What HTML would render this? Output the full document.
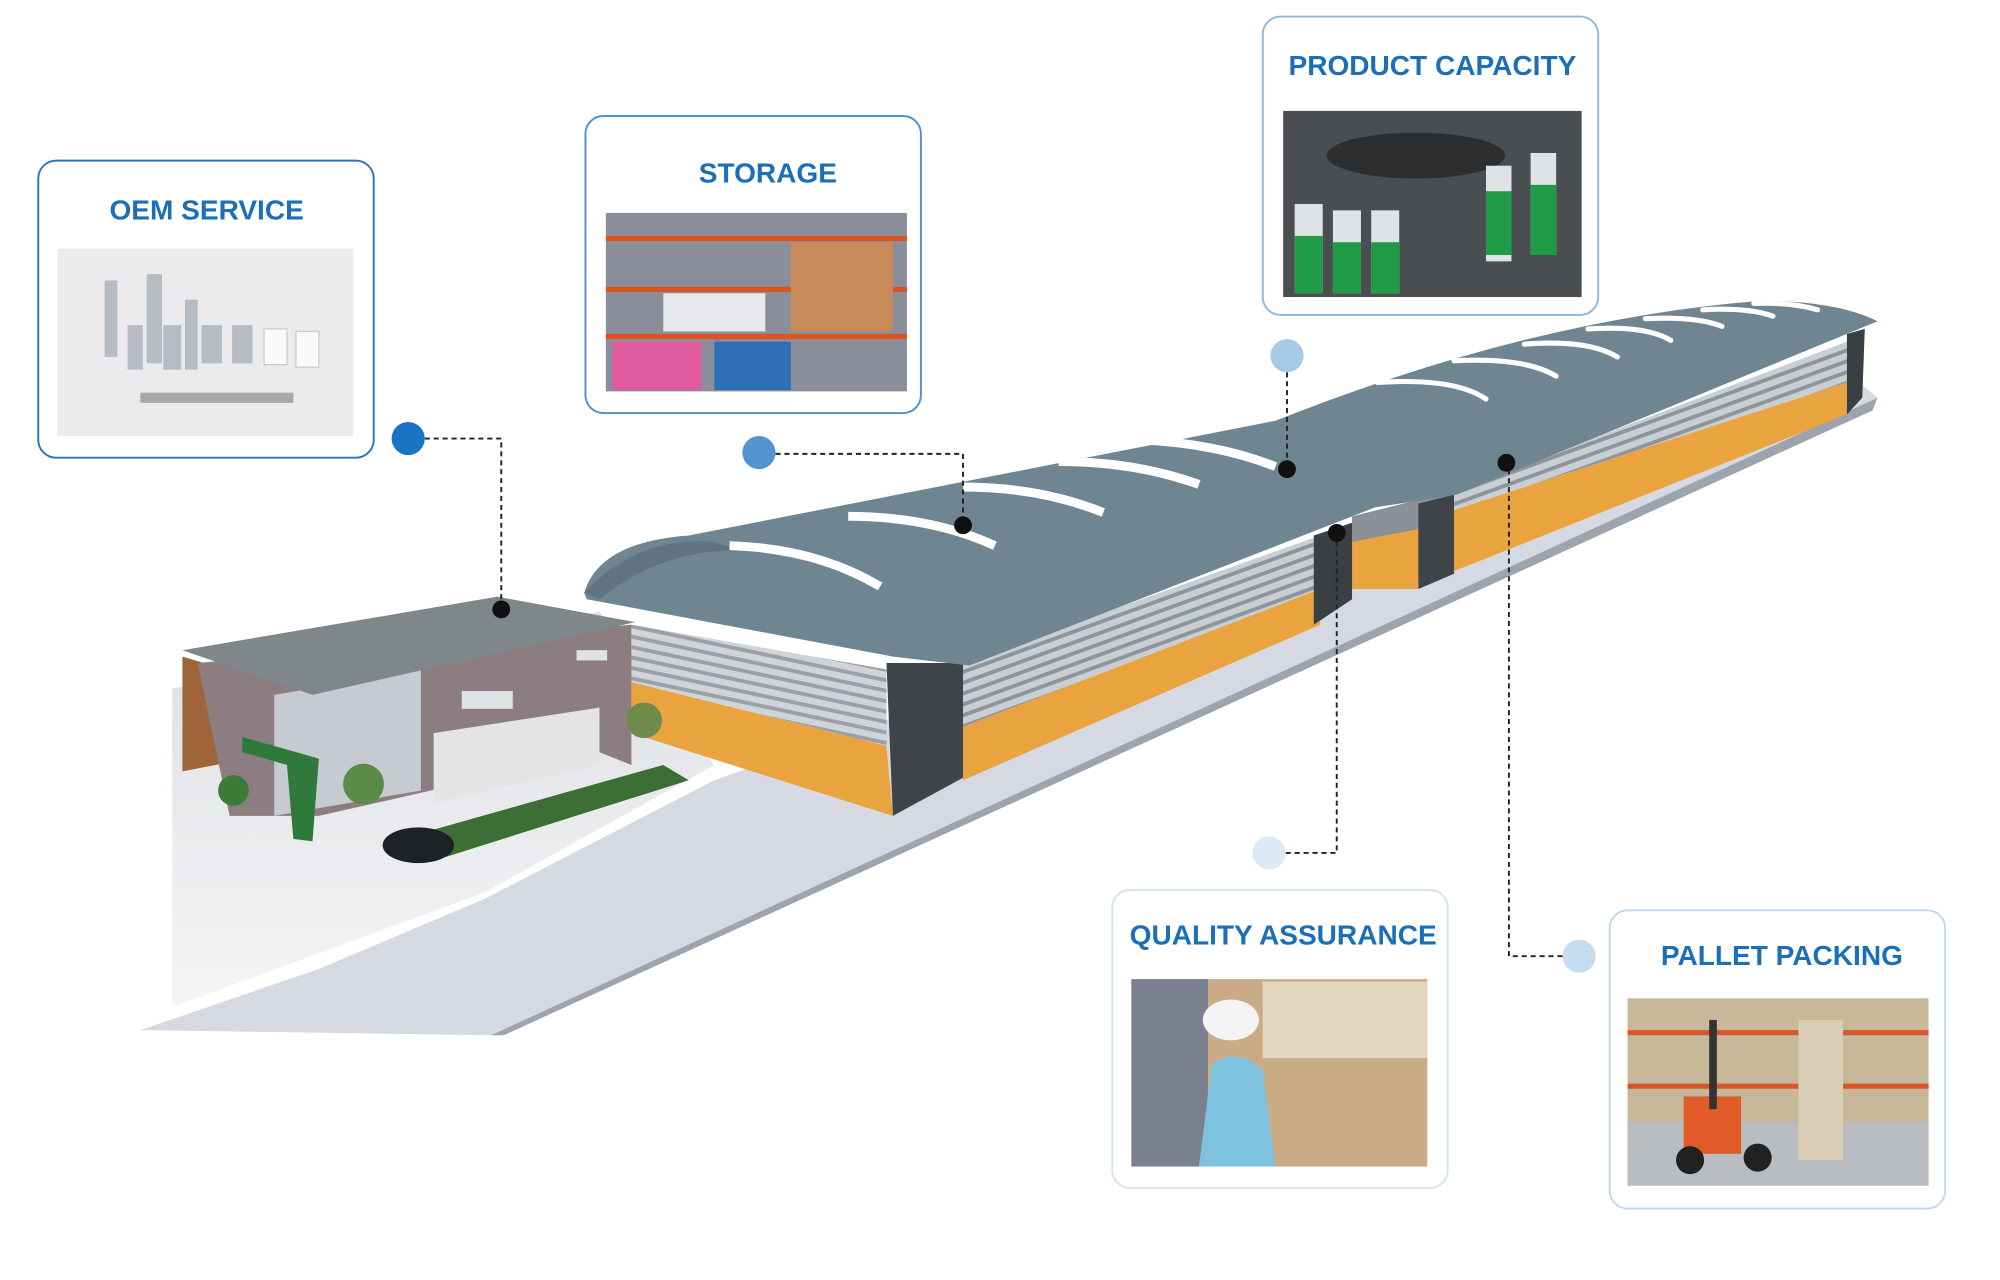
<!DOCTYPE html>
<html><head><meta charset="utf-8"><style>
html,body{margin:0;padding:0;background:#fff;}
svg{display:block;}
text{font-family:"Liberation Sans",sans-serif;font-weight:bold;fill:#1a6fb8;}
</style></head><body>
<svg width="2000" height="1280" viewBox="0 0 1568 1004" preserveAspectRatio="none" xmlns="http://www.w3.org/2000/svg">
<defs>
<linearGradient id="lot" x1="0" y1="0" x2="0" y2="1"><stop offset="0" stop-color="#dcdfe2"/><stop offset="1" stop-color="#f4f5f7"/></linearGradient>
<pattern id="stripe" width="8" height="8" patternUnits="userSpaceOnUse" patternTransform="rotate(-20)"><rect width="8" height="8" fill="#c9ced3"/><rect width="8" height="3" fill="#8d949b"/></pattern>
<pattern id="stripe2" width="8" height="8" patternUnits="userSpaceOnUse" patternTransform="rotate(12)"><rect width="8" height="8" fill="#d0d4d8"/><rect width="8" height="3" fill="#9aa0a6"/></pattern>
</defs>
<!-- ground -->
<polygon points="135,540 470,480 560,600 380,700 135,790" fill="url(#lot)"/>
<polygon points="110,808 385,812 1472,312 1455,298 560,612 380,705 250,760" fill="#d6d9e2"/>
<polygon points="385,812 1472,312 1468,322 395,812" fill="#9ea4ae"/>
<!-- warehouse 2 -->
<polygon points="1060,405 1140,385 1140,450 1060,462" fill="#8a9096"/>
<polygon points="1060,425 1112,415 1112,462 1060,462" fill="#e9a33f"/>
<polygon points="1112,395 1140,388 1140,450 1112,462" fill="#3f4449"/>
<polygon points="1140,385 1448,268 1448,300 1140,400" fill="url(#stripe)"/>
<polygon points="1140,400 1448,300 1448,325 1140,448" fill="#e9a33f"/>
<polygon points="1448,262 1462,258 1460,312 1448,325" fill="#3a3f44"/>
<path d="M995,332 Q1200,250 1380,236 Q1440,236 1472,252 L1142,388 L1078,398 Z" fill="#6f8692"/>
<g stroke="#fff" stroke-width="4" fill="none" stroke-linecap="round">
<path d="M1080,300 Q1140,296 1165,313"/><path d="M1140,283 Q1195,280 1220,295"/><path d="M1195,270 Q1245,266 1268,280"/><path d="M1245,258 Q1290,255 1310,267"/><path d="M1290,250 Q1330,248 1350,256"/><path d="M1335,243 Q1370,241 1390,248"/><path d="M1375,238 Q1405,237 1425,243"/>
</g>
<!-- warehouse 1 -->
<polygon points="495,490 695,525 695,585 495,535" fill="url(#stripe2)"/>
<polygon points="495,535 695,585 700,640 495,575" fill="#e9a33f"/>
<polygon points="695,520 755,520 755,610 700,640" fill="#3f4449"/>
<polygon points="755,520 1035,420 1035,462 755,570" fill="url(#stripe)"/>
<polygon points="755,570 1035,462 1035,490 755,612" fill="#e9a33f"/>
<polygon points="1030,420 1060,410 1060,470 1030,490" fill="#3a3f44"/>
<path d="M458,465 Q470,425 540,420 L1000,330 Q1060,350 1078,398 L760,522 L700,515 L460,470 Z" fill="#6f8692"/>
<path d="M458,465 Q500,420 560,425 L580,432 Q520,430 470,470 Z" fill="#5f7480"/>
<g stroke="#fff" stroke-width="7" fill="none" stroke-linecap="butt">
<path d="M572,428 Q640,430 690,460"/><path d="M665,405 Q730,405 780,428"/><path d="M755,382 Q815,382 865,402"/><path d="M830,362 Q890,362 940,380"/><path d="M895,345 Q955,348 1000,366"/>
</g>
<!-- house -->
<polygon points="143,515 160,520 195,595 143,605" fill="#a0643a"/>
<polygon points="155,520 495,490 495,600 470,590 250,640 180,640" fill="#8c7e80"/>
<polygon points="215,545 330,525 330,620 215,640" fill="#c5cbd0"/>
<polygon points="340,575 470,555 470,600 340,630" fill="#e4e4e4"/>
<rect x="362" y="542" width="40" height="14" fill="#dfe3e6"/>
<rect x="452" y="510" width="24" height="8" fill="#dfe3e6"/>
<polygon points="143,510 390,468 498,488 245,545" fill="#7f878b"/>
<polygon points="190,578 250,595 245,660 230,658 225,600 190,590" fill="#2f7a3a"/>
<polygon points="300,662 520,600 540,612 350,672" fill="#3c6e35"/>
<circle cx="183" cy="620" r="12" fill="#3d7a35"/>
<circle cx="285" cy="615" r="16" fill="#5a8c45"/>
<circle cx="505" cy="565" r="14" fill="#6f8a4a"/>
<ellipse cx="328" cy="663" rx="28" ry="14" fill="#1e2226"/>
<!-- connectors -->
<g stroke="#222" stroke-width="1.5" stroke-dasharray="4,3" fill="none">
<polyline points="333,344 393,344 393,478"/>
<polyline points="608,356 755,356 755,412"/>
<polyline points="1009,292 1009,368"/>
<polyline points="1008,669 1048,669 1048,418"/>
<polyline points="1225,750 1183,750 1183,363"/>
</g>
<g fill="#111"><circle cx="393" cy="478" r="7"/><circle cx="755" cy="412" r="7"/><circle cx="1009" cy="368" r="7"/><circle cx="1048" cy="418" r="7"/><circle cx="1181" cy="363" r="7"/></g>
<circle cx="320" cy="344" r="13" fill="#1a73c2"/>
<circle cx="595" cy="355" r="13" fill="#5294cf"/>
<circle cx="1009" cy="279" r="13" fill="#a7c9e8"/>
<circle cx="995" cy="669" r="13" fill="#dde9f5"/>
<circle cx="1238" cy="750" r="13" fill="#c6dcf0"/>
<!-- boxes -->
<g fill="#fff" stroke-width="1.5">
<rect x="30" y="126" width="263" height="233" rx="14" stroke="#2a73c0"/>
<rect x="459" y="91" width="263" height="233" rx="14" stroke="#4a90d0"/>
<rect x="990" y="13" width="263" height="234" rx="14" stroke="#8db8e0"/>
<rect x="872" y="698" width="263" height="234" rx="14" stroke="#d5e4f2"/>
<rect x="1262" y="714" width="263" height="234" rx="14" stroke="#c0d7ee"/>
</g>
<text x="162" y="172" font-size="22" text-anchor="middle">OEM SERVICE</text>
<text x="602" y="143" font-size="22" text-anchor="middle">STORAGE</text>
<text x="1123" y="59" font-size="22" text-anchor="middle">PRODUCT CAPACITY</text>
<text x="1006" y="741" font-size="22" text-anchor="middle">QUALITY ASSURANCE</text>
<text x="1397" y="757" font-size="22" text-anchor="middle">PALLET PACKING</text>
<!-- images -->
<rect x="45" y="195" width="232" height="147" fill="#ebebee"/>
<g fill="#b7bcc2"><rect x="82" y="220" width="10" height="60"/><rect x="115" y="215" width="12" height="70"/><rect x="100" y="255" width="12" height="35"/><rect x="128" y="255" width="14" height="35"/><rect x="145" y="235" width="10" height="55"/><rect x="158" y="255" width="16" height="30"/><rect x="182" y="255" width="16" height="30"/></g>
<g fill="#fafafa" stroke="#ccc"><rect x="207" y="258" width="18" height="28"/><rect x="232" y="260" width="18" height="28"/></g>
<rect x="110" y="308" width="120" height="8" fill="#a8a8a8"/>
<rect x="475" y="167" width="236" height="140" fill="#8a8e9a"/>
<rect x="475" y="185" width="236" height="4" fill="#e0521e"/><rect x="475" y="225" width="236" height="4" fill="#e0521e"/><rect x="475" y="262" width="236" height="4" fill="#e0521e"/>
<rect x="480" y="268" width="70" height="38" fill="#e05aa0"/><rect x="560" y="268" width="60" height="38" fill="#2e6fb5"/><rect x="520" y="230" width="80" height="30" fill="#e6e8ee"/><rect x="620" y="190" width="80" height="70" fill="#c98a5a"/>
<rect x="1006" y="87" width="234" height="146" fill="#4a4e50"/>
<ellipse cx="1110" cy="122" rx="70" ry="18" fill="#2c2e30"/>
<g fill="#dfe3e6"><rect x="1015" y="160" width="22" height="70"/><rect x="1045" y="165" width="22" height="65"/><rect x="1075" y="165" width="22" height="65"/><rect x="1165" y="130" width="20" height="75"/><rect x="1200" y="120" width="20" height="80"/></g>
<g fill="#1f9a45"><rect x="1015" y="185" width="22" height="45"/><rect x="1045" y="190" width="22" height="40"/><rect x="1075" y="190" width="22" height="40"/><rect x="1165" y="150" width="20" height="50"/><rect x="1200" y="145" width="20" height="55"/></g>
<rect x="887" y="768" width="232" height="147" fill="#c9ab85"/>
<rect x="887" y="768" width="60" height="147" fill="#7a8090"/>
<rect x="990" y="770" width="129" height="60" fill="#e4d6c0"/>
<ellipse cx="965" cy="800" rx="22" ry="16" fill="#f4f4f4"/>
<path d="M940,915 L950,835 Q970,820 990,840 L1000,915 Z" fill="#7dc3e0"/>
<rect x="1276" y="783" width="236" height="147" fill="#c7b899"/>
<rect x="1276" y="880" width="236" height="50" fill="#b9bcc0"/>
<rect x="1276" y="808" width="236" height="4" fill="#d9562a"/><rect x="1276" y="850" width="236" height="4" fill="#d9562a"/>
<rect x="1320" y="860" width="45" height="45" fill="#e05a2a"/><rect x="1340" y="800" width="6" height="70" fill="#333"/>
<circle cx="1325" cy="910" r="11" fill="#222"/><circle cx="1378" cy="908" r="11" fill="#222"/>
<rect x="1410" y="800" width="35" height="110" fill="#d9cdb5"/>
</svg>
</body></html>
